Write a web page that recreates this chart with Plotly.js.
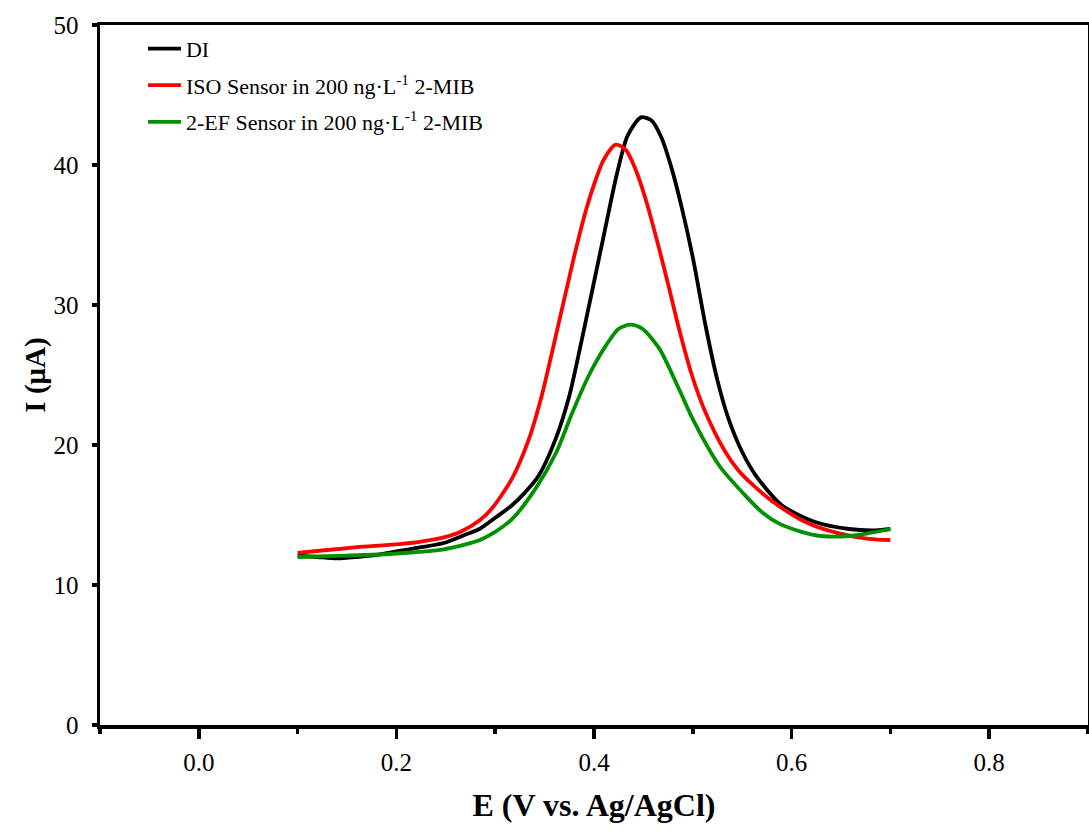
<!DOCTYPE html>
<html>
<head>
<meta charset="utf-8">
<script src="https://cdn.plot.ly/plotly-3.0.1.min.js"></script>
<style>html,body{margin:0;padding:0;background:#fff;}#chart{width:1089px;height:832px;}</style>
</head>
<body>
<div id="chart"></div>
<script>
// DI (black)
const diE = [0.100,0.120,0.140,0.160,0.180,0.200,0.225,0.248,0.270,0.284,0.300,0.317,0.330,0.344,0.361,0.375,0.390,0.410,0.423,0.434,0.4475,0.458,0.468,0.478,0.489,0.500,0.513,0.525,0.536,0.550,0.564,0.590,0.624,0.658,0.685,0.700];
const diI = [12.1,12.0,11.9,12.0,12.15,12.4,12.7,13.0,13.6,14.0,14.8,15.7,16.6,17.8,20.4,23.5,28.3,35.0,39.3,42.1,43.4,43.2,42.0,39.9,36.9,33.4,28.5,24.6,21.9,19.5,17.8,15.7,14.5,14.0,13.9,14.0];
// ISO Sensor in 200 ng/L 2-MIB (red)
const isoE = [0.100,0.130,0.160,0.200,0.225,0.248,0.265,0.284,0.297,0.317,0.334,0.347,0.363,0.380,0.392,0.402,0.410,0.422,0.432,0.442,0.4525,0.466,0.476,0.486,0.499,0.513,0.533,0.546,0.560,0.582,0.614,0.647,0.678,0.700];
const isoI = [12.3,12.5,12.7,12.9,13.1,13.4,13.8,14.6,15.5,17.6,20.4,23.5,28.3,33.5,36.8,39.0,40.4,41.45,41.1,39.7,37.5,34.0,31.2,28.3,25.0,22.3,19.5,18.2,17.2,15.9,14.5,13.7,13.3,13.2];
// 2-EF Sensor in 200 ng/L 2-MIB (green)
const efE = [0.100,0.150,0.200,0.248,0.270,0.284,0.300,0.317,0.341,0.362,0.378,0.395,0.412,0.425,0.437,0.449,0.466,0.486,0.501,0.527,0.553,0.570,0.587,0.610,0.630,0.658,0.678,0.700];
const efI = [12.0,12.1,12.25,12.55,12.9,13.2,13.8,14.7,16.9,19.5,22.3,25.0,27.1,28.3,28.6,28.3,26.9,24.0,21.7,18.5,16.4,15.2,14.4,13.8,13.5,13.5,13.7,14.0];

const names = ["DI", "ISO Sensor in 200 ng·L<sup>-1</sup> 2-MIB", "2-EF Sensor in 200 ng·L<sup>-1</sup> 2-MIB"];
const colors = ["#000000", "#ff0000", "#009000"];
const xTickVals = [0.0, 0.2, 0.4, 0.6, 0.8];
const xTickText = ["0.0", "0.2", "0.4", "0.6", "0.8"];
const yTickVals = [0, 10, 20, 30, 40, 50];

const series = [[diE, diI], [isoE, isoI], [efE, efI]];
const traces = series.map((s, i) => ({
  x: s[0], y: s[1], type: "scatter", mode: "lines", name: names[i],
  legendgroup: "g" + i,
  line: {color: colors[i], width: 3.8, shape: "spline", smoothing: 0.75}
}));

const serif = "Liberation Serif, Times New Roman, serif";
const layout = {
  width: 1089, height: 832,
  margin: {l: 100, r: 1, t: 25, b: 107},
  paper_bgcolor: "#ffffff", plot_bgcolor: "#ffffff",
  font: {family: serif, size: 24, color: "#000"},
  showlegend: true,
  legend: {x: 0.0435, y: 0.996, xanchor: "left", yanchor: "top", bgcolor: "rgba(0,0,0,0)",
           itemwidth: 33,
           font: {family: serif, size: 22, color: "#000"}, tracegroupgap: 5, traceorder: "grouped"},
  xaxis: {
    range: [-0.1, 0.9], tickmode: "array", tickvals: xTickVals, ticktext: xTickText,
    ticks: "outside", ticklen: 10, tickwidth: 3.5, tickcolor: "#000",
    minor: {dtick: 0.1, tick0: 0, ticks: "outside", ticklen: 5, tickwidth: 3.5, tickcolor: "#000"},
    showline: true, linecolor: "#000", linewidth: 3.5, mirror: true,
    showgrid: false, zeroline: false,
    ticklabelstandoff: 2,
    tickfont: {family: serif, size: 25, color: "#000"},
    title: {text: "<b>E (V vs. Ag/AgCl)</b>", font: {family: serif, size: 32, color: "#000"}, standoff: 20}
  },
  yaxis: {
    range: [0, 50], tickmode: "array", tickvals: yTickVals,
    ticks: "outside", ticklen: 5, tickwidth: 3.5, tickcolor: "#000",
    showline: true, linecolor: "#000", linewidth: 3.5, mirror: true,
    showgrid: false, zeroline: false,
    ticklabelstandoff: 8,
    tickfont: {family: serif, size: 25, color: "#000"},
    title: {text: "<b>I (μA)</b>", font: {family: serif, size: 29, color: "#000"}, standoff: 0}
  }
};

Plotly.newPlot("chart", traces, layout, {displayModeBar: false, staticPlot: true});
</script>
</body>
</html>
